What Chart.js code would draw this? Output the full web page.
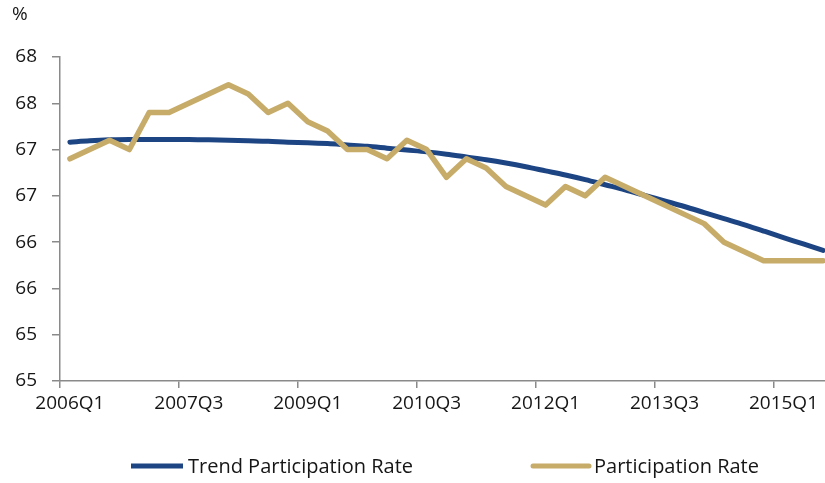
<!DOCTYPE html>
<html>
<head>
<meta charset="utf-8">
<script src="https://cdn.jsdelivr.net/npm/chart.js@4.4.1/dist/chart.umd.min.js"></script>
<style>
  html, body { margin: 0; padding: 0; background: #ffffff; overflow: hidden; width: 825px; height: 483px; }
  #wrap { position: relative; width: 840px; height: 483px; }
</style>
</head>
<body>
<div id="wrap"><canvas id="c" width="840" height="483"></canvas></div>
<script>
// ---- data ----
const quarters = [
  '2006Q1','2006Q2','2006Q3','2006Q4',
  '2007Q1','2007Q2','2007Q3','2007Q4',
  '2008Q1','2008Q2','2008Q3','2008Q4',
  '2009Q1','2009Q2','2009Q3','2009Q4',
  '2010Q1','2010Q2','2010Q3','2010Q4',
  '2011Q1','2011Q2','2011Q3','2011Q4',
  '2012Q1','2012Q2','2012Q3','2012Q4',
  '2013Q1','2013Q2','2013Q3','2013Q4',
  '2014Q1','2014Q2','2014Q3','2014Q4',
  '2015Q1','2015Q2','2015Q3'
];
const trendRate = [
  67.580, 67.595, 67.605, 67.610, 67.610, 67.610, 67.610, 67.605, 67.600, 67.595,
  67.590, 67.580, 67.575, 67.565, 67.550, 67.535, 67.515, 67.495, 67.475, 67.450,
  67.420, 67.390, 67.355, 67.315, 67.270, 67.225, 67.175, 67.120, 67.065, 67.005,
  66.945, 66.885, 66.820, 66.755, 66.690, 66.620, 66.550, 66.480, 66.410
];
const participationRate = [
  67.4, 67.5, 67.6, 67.5, 67.9, 67.9, 68.0, 68.1, 68.2, 68.1,
  67.9, 68.0, 67.8, 67.7, 67.5, 67.5, 67.4, 67.6, 67.5, 67.2,
  67.4, 67.3, 67.1, 67.0, 66.9, 67.1, 67.0, 67.2, 67.1, 67.0,
  66.9, 66.8, 66.7, 66.5, 66.4, 66.3, 66.3, 66.3, 66.3
];
const xTickLabels = ['2006Q1','2007Q3','2009Q1','2010Q3','2012Q1','2013Q3','2015Q1'];
const yTickValues = [65, 65.5, 66, 66.5, 67, 67.5, 68, 68.5];
const yTickLabels = ['65','65','66','66','67','67','68','68'];
const seriesNames = ['Trend Participation Rate', 'Participation Rate'];
const unitLabel = '%';

// ---- styles ----
const BLUE = '#1d4584';
const GOLD = '#c7ab69';
const AXIS = '#8a8a8a';
const TEXT = '#161616';
const FONT = "'Open Sans', 'Noto Sans', sans-serif";

// custom legend laid out like the reference (wide gap between the two items)
const legendLayout = [
  { x: 131, len: 52 },
  { x: 533, len: 56 }
];
const legendPlugin = {
  id: 'refLegend',
  afterDraw(chart) {
    const ctx = chart.ctx;
    const y = 466;
    ctx.save();
    ctx.font = '20px ' + FONT;
    ctx.textBaseline = 'middle';
    ctx.textAlign = 'left';
    chart.data.datasets.forEach((ds) => {
      const L = legendLayout[ds.legendIndex];
      ctx.strokeStyle = ds.borderColor;
      ctx.lineWidth = 5;
      ctx.lineCap = ds.legendIndex === 0 ? 'butt' : 'round';
      ctx.beginPath();
      ctx.moveTo(L.x, y);
      ctx.lineTo(L.x + L.len, y);
      ctx.stroke();
      ctx.fillStyle = TEXT;
      ctx.fillText(ds.label, L.x + L.len + 5, y + 1);
    });
    ctx.restore();
  }
};

new Chart(document.getElementById('c'), {
  type: 'line',
  data: {
    labels: quarters,
    datasets: [
      {
        label: seriesNames[0],
        legendIndex: 0,
        data: trendRate,
        borderColor: BLUE,
        backgroundColor: BLUE,
        borderWidth: 5,
        pointRadius: 0,
        cubicInterpolationMode: 'monotone',
        borderCapStyle: 'round',
        borderJoinStyle: 'round',
        order: 1
      },
      {
        label: seriesNames[1],
        legendIndex: 1,
        data: participationRate,
        borderColor: GOLD,
        backgroundColor: GOLD,
        borderWidth: 5.5,
        pointRadius: 0,
        tension: 0,
        borderCapStyle: 'round',
        borderJoinStyle: 'round',
        order: 0
      }
    ]
  },
  options: {
    responsive: false,
    animation: false,
    devicePixelRatio: 1,
    layout: { padding: { left: 12, right: 7, top: 0, bottom: 62 } },
    plugins: {
      legend: { display: false },
      tooltip: { enabled: false },
      title: {
        display: true,
        text: unitLabel,
        align: 'start',
        color: TEXT,
        font: { family: FONT, size: 19, weight: 'normal' },
        padding: { top: 3, bottom: 31.2 }
      }
    },
    scales: {
      x: {
        type: 'category',
        offset: true,
        afterFit(scale) { scale.height = 40; },
        border: { display: true, color: AXIS, width: 1.5 },
        grid: {
          offset: true,
          drawOnChartArea: false,
          drawTicks: true,
          tickLength: 7,
          lineWidth: 1.5,
          color: (ctx) => (ctx.index !== undefined && ctx.index % 6 === 0) ? AXIS : 'rgba(0,0,0,0)'
        },
        ticks: {
          autoSkip: false,
          maxRotation: 0,
          minRotation: 0,
          padding: 4,
          color: TEXT,
          font: { family: FONT, size: 19 },
          callback: (val, i) => xTickLabels.includes(quarters[i]) ? quarters[i] : ''
        }
      },
      y: {
        min: yTickValues[0],
        max: yTickValues[yTickValues.length - 1],
        afterFit(scale) { scale.width = 48; },
        afterBuildTicks(scale) { scale.ticks = yTickValues.map(v => ({ value: v })); },
        border: { display: true, color: AXIS, width: 1.5 },
        grid: {
          drawOnChartArea: false,
          drawTicks: true,
          tickLength: 8,
          lineWidth: 1.5,
          color: AXIS
        },
        ticks: {
          padding: 15,
          color: TEXT,
          font: { family: FONT, size: 19 },
          callback: (val, i) => yTickLabels[i]
        }
      }
    }
  },
  plugins: [legendPlugin]
});
</script>
</body>
</html>
